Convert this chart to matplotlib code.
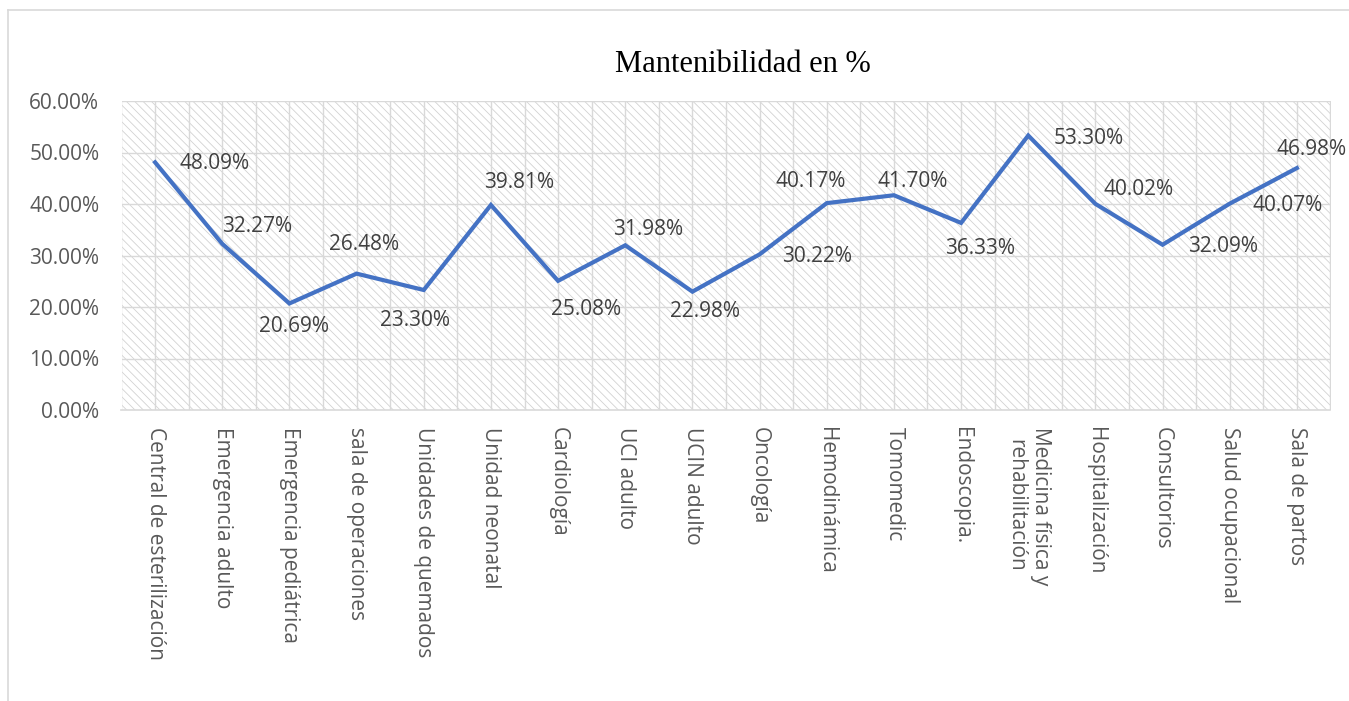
import matplotlib
matplotlib.use("Agg")
import matplotlib.pyplot as plt
from matplotlib.lines import Line2D
from matplotlib.patches import Rectangle
from matplotlib.ticker import FuncFormatter

categories = [
    "Central de esterilización", "Emergencia adulto", "Emergencia pediátrica",
    "sala de operaciones", "Unidades de quemados", "Unidad neonatal",
    "Cardiología", "UCI adulto", "UCIN adulto", "Oncología", "Hemodinámica",
    "Tomomedic", "Endoscopia.", "Medicina física y\nrehabilitación",
    "Hospitalización", "Consultorios", "Salud ocupacional", "Sala de partos",
]
values = [48.09, 32.27, 20.69, 26.48, 23.30, 39.81, 25.08, 31.98, 22.98,
          30.22, 40.17, 41.70, 36.33, 53.30, 40.02, 32.09, 40.07, 46.98]
title = "Mantenibilidad en %"
y_ticks = [0, 10, 20, 30, 40, 50, 60]

# data-label offsets in pixels (dx, dy)
label_offsets = [(59, -1), (35, 17), (5, -23), (7, 29), (-9, -30), (28, 22),
                 (28, -29), (23, 16), (13, -20), (57, -2), (-16, 22), (19, 14),
                 (19, -26), (60, -3), (43, 14), (60, -2), (58, -2), (15, 19)]

W, H = 1349, 701
plt.rcParams["hatch.linewidth"] = 0.6
fig = plt.figure(figsize=(W / 100, H / 100), dpi=100)
fig.patch.set_facecolor("white")

left, right, top, bottom = 121.5, 1330.5, 101, 410
ax = fig.add_axes([left / W, 1 - bottom / H, (right - left) / W, (bottom - top) / H])
ax.set_facecolor("white")

x = list(range(len(categories)))
ax.set_xlim(-0.5, len(categories) - 0.5)
ax.set_ylim(0, 60)

# hatched plot-area background
bg = Rectangle((0, 0), 1, 1, transform=ax.transAxes, facecolor="white",
               edgecolor="#d2d2d2", linewidth=0, hatch="\\\\\\\\", zorder=0)
ax.add_patch(bg)

grid_c = "#d9d9d9"
for yv in y_ticks[1:]:
    ax.axhline(yv, color=grid_c, lw=1.0, zorder=1)
k = -0.5
while k <= len(categories) - 0.5 + 1e-9:
    ax.axvline(k, color=grid_c, lw=1.0, zorder=1)
    k += 0.5

for s in ["top", "right", "left"]:
    ax.spines[s].set_visible(False)
ax.spines["bottom"].set_color(grid_c)
ax.spines["bottom"].set_linewidth(1.2)

ax.plot(x, values, color="#4472C4", lw=3.0, solid_joinstyle="miter", zorder=3)

for xi, v, (dx, dy) in zip(x, values, label_offsets):
    ax.annotate(f"{v:.2f}%", xy=(xi, v), xytext=(dx, dy), textcoords="offset pixels",
                ha="center", va="center", fontsize=15, color="#404040",
                family="Open Sans", zorder=4)

ax.set_yticks(y_ticks)
ax.yaxis.set_major_formatter(FuncFormatter(lambda v, p: f"{v:.2f}%"))
ax.tick_params(axis="y", length=0, pad=16, labelsize=15, labelcolor="#595959")
ax.set_xticks(x)
ax.set_xticklabels(categories, rotation=270, ha="center", va="top",
                   fontsize=15, color="#595959", family="Open Sans",
                   multialignment="center")
ax.tick_params(axis="x", length=0, pad=12)
for lab in ax.get_yticklabels():
    lab.set_family("Open Sans")

fig.text(743 / W, 1 - 64 / H, title, ha="center", va="center",
         fontsize=22, family="Liberation Serif", color="black")

# chart-area border (left and top visible in the reference)
fig.add_artist(Line2D([8 / W, 8 / W], [0, 1 - 10 / H], transform=fig.transFigure,
                      color="#d9d9d9", lw=1.2))
fig.add_artist(Line2D([8 / W, 1], [1 - 10 / H, 1 - 10 / H], transform=fig.transFigure,
                      color="#d9d9d9", lw=1.2))

fig.savefig("out.png", dpi=100, facecolor="white")
